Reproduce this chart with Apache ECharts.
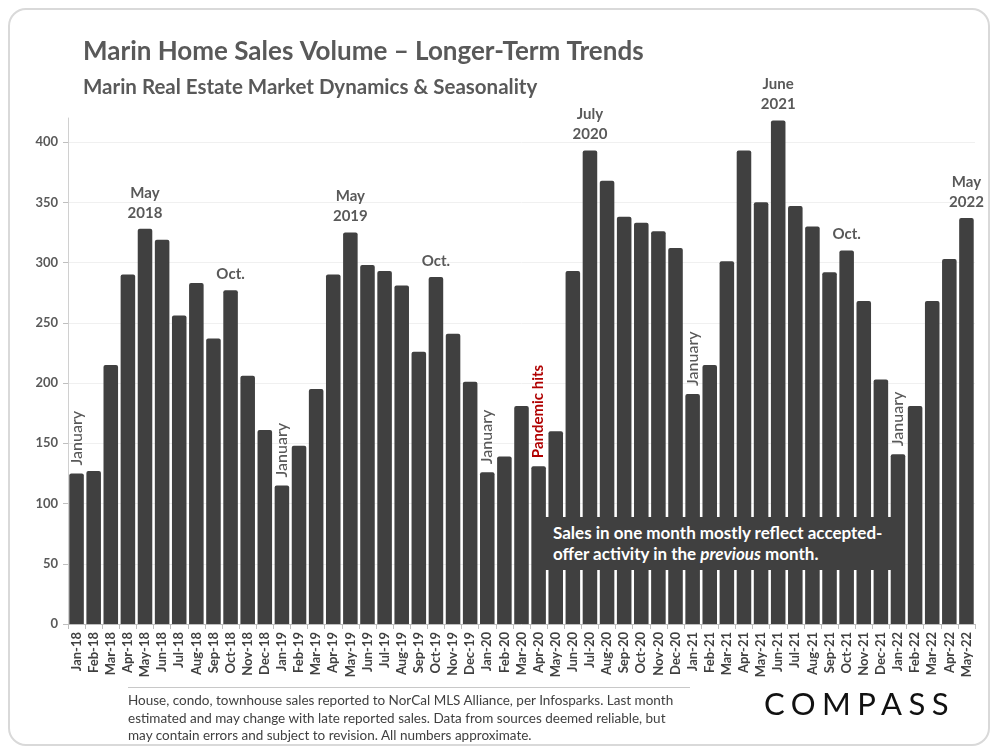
<!DOCTYPE html>
<html>
<head>
<meta charset="utf-8">
<script src="https://cdn.jsdelivr.net/npm/echarts@6/dist/echarts.min.js"></script>
<style>
html,body{margin:0;padding:0;background:#fff;}
#card{position:absolute;left:8px;top:8px;width:982px;height:738px;border:2px solid #d9d9d9;border-radius:18px;box-sizing:border-box;}
#chart{position:absolute;left:0;top:0;width:1000px;height:750px;}
#note{position:absolute;left:538px;top:517px;width:358px;height:53px;background:#404040;color:#fff;
  font:bold 17px Lato,"Noto Sans",sans-serif;line-height:21px;box-sizing:border-box;padding:5px 0 0 15px;white-space:nowrap;}
#footer{position:absolute;left:128px;top:692px;color:#404040;font:13.5px Lato,"Noto Sans",sans-serif;line-height:17.5px;white-space:nowrap;}
#rule{position:absolute;left:128px;top:687px;width:562px;height:1px;background:#c8c8c8;}
#logo{position:absolute;left:764px;top:684px;color:#111;font:400 31px Lato,"Noto Sans",sans-serif;letter-spacing:6.5px;white-space:nowrap;}
</style>
</head>
<body>
<div id="card"></div>
<div id="chart"></div>
<div id="note">Sales in one month mostly reflect accepted-<br>offer activity in the <i>previous</i> month.</div>
<div id="rule"></div>
<div id="footer">House, condo, townhouse sales reported to NorCal MLS Alliance, per Infosparks. Last month<br>estimated and may change with late reported sales. Data from sources deemed reliable, but<br>may contain errors and subject to revision. All numbers approximate.</div>
<div id="logo">COMPASS</div>
<script>
const categories = ["Jan-18","Feb-18","Mar-18","Apr-18","May-18","Jun-18","Jul-18","Aug-18","Sep-18","Oct-18","Nov-18","Dec-18",
"Jan-19","Feb-19","Mar-19","Apr-19","May-19","Jun-19","Jul-19","Aug-19","Sep-19","Oct-19","Nov-19","Dec-19",
"Jan-20","Feb-20","Mar-20","Apr-20","May-20","Jun-20","Jul-20","Aug-20","Sep-20","Oct-20","Nov-20","Dec-20",
"Jan-21","Feb-21","Mar-21","Apr-21","May-21","Jun-21","Jul-21","Aug-21","Sep-21","Oct-21","Nov-21","Dec-21",
"Jan-22","Feb-22","Mar-22","Apr-22","May-22"];
const sales = [125,127,215,290,328,319,256,283,237,277,206,161,
115,148,195,290,325,298,293,281,226,288,241,201,
126,139,181,131,160,293,393,368,338,333,326,312,
191,215,301,393,350,418,347,330,292,310,268,203,
141,181,268,303,337];
const yTicks = [0,50,100,150,200,250,300,350,400];
const topNotes = {"May-18":"May\n2018","Oct-18":"Oct.","May-19":"May\n2019","Oct-19":"Oct.","Jul-20":"July\n2020","Jun-21":"June\n2021","Oct-21":"Oct.","May-22":"May\n2022"};
const vertNotes = {"Jan-18":"January","Jan-19":"January","Jan-20":"January","Jan-21":"January","Jan-22":"January"};
const redNotes = {"Apr-20":"Pandemic hits"};

const FONT = 'Lato, "Noto Sans", sans-serif';
const GREY = '#595959';
const BAR = '#404040';

const data = categories.map((c,i)=>{
  const item = {value: sales[i]};
  if (topNotes[c]) {
    item.label = {show:true, position:'top', distance:6, formatter: topNotes[c], fontFamily:FONT, fontSize:15, fontWeight:'bold', color:GREY, lineHeight:20};
  } else if (vertNotes[c]) {
    item.label = {show:true, position:'top', distance:8, rotate:90, align:'left', verticalAlign:'middle', formatter: vertNotes[c], fontFamily:FONT, fontSize:16, fontWeight:500, color:GREY};
  } else if (redNotes[c]) {
    item.label = {show:true, position:'top', distance:8, rotate:90, align:'left', verticalAlign:'middle', formatter: redNotes[c], fontFamily:FONT, fontSize:15, fontWeight:'bold', color:'#b00000'};
  }
  return item;
});

const chart = echarts.init(document.getElementById('chart'));
chart.setOption({
  animation:false,
  title:[
    {text:'Marin Home Sales Volume – Longer-Term Trends', left:78, top:34, textStyle:{fontFamily:FONT, fontSize:26, fontWeight:'bold', color:GREY}},
    {text:'Marin Real Estate Market Dynamics & Seasonality', left:78, top:72, textStyle:{fontFamily:FONT, fontSize:20.5, fontWeight:'bold', color:GREY}}
  ],
  grid:{left:68, right:25, top:118, bottom:126},
  xAxis:{
    type:'category', data:categories,
    axisLine:{lineStyle:{color:'#bfbfbf'}},
    axisTick:{show:true, length:5, lineStyle:{color:'#bfbfbf'}},
    axisLabel:{rotate:90, interval:0, fontFamily:FONT, fontSize:13, fontWeight:'bold', color:'#404040', margin:8}
  },
  yAxis:{
    type:'value', min:0, max:420, interval:50,
    axisLine:{show:true, lineStyle:{color:'#d0d0d0'}},
    axisTick:{show:true, length:5, lineStyle:{color:'#bfbfbf'}},
    axisLabel:{showMaxLabel:false, fontFamily:FONT, fontSize:13, fontWeight:'bold', color:GREY, margin:10,
      formatter:(v)=> yTicks.indexOf(v)>=0 ? String(v) : ''},
    splitLine:{show:true, showMaxLine:false, lineStyle:{color:'#f0f0f0'}}
  },
  series:[{
    type:'bar', data:data, barCategoryGap:'15%',
    itemStyle:{color:BAR, borderRadius:[2,2,0,0]}
  }]
});
</script>
</body>
</html>
